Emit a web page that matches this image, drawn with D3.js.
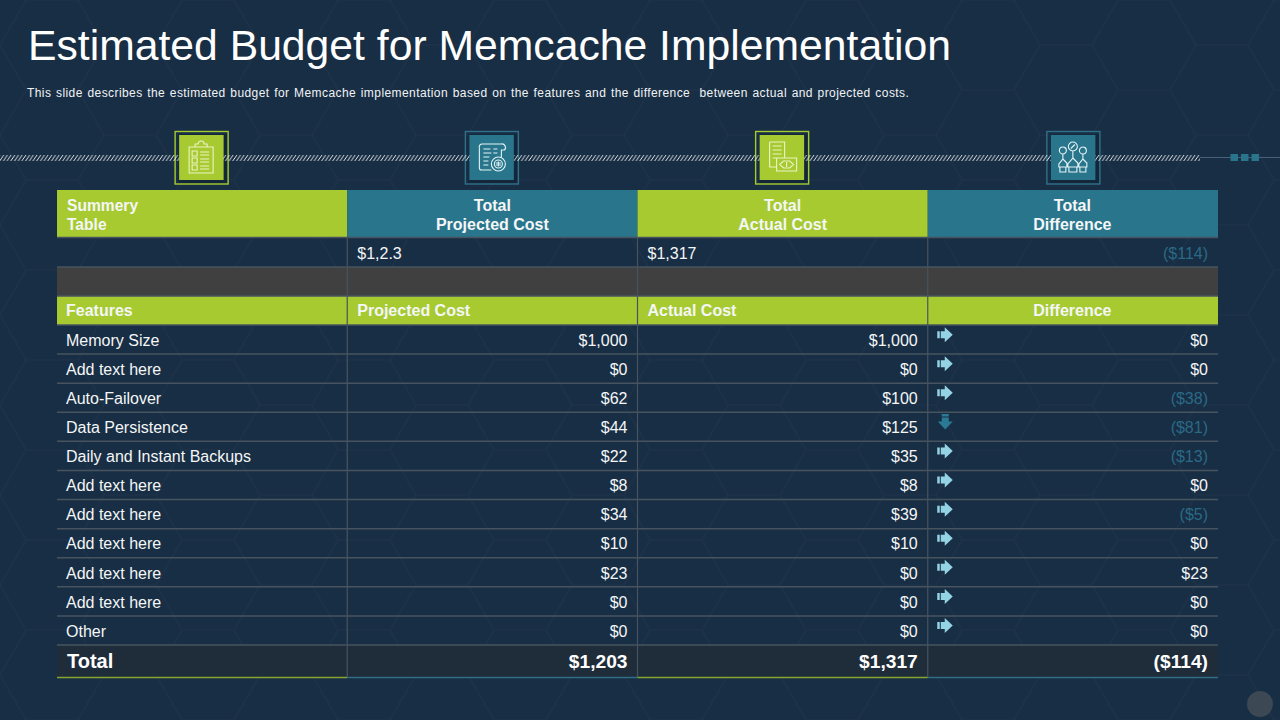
<!DOCTYPE html>
<html>
<head>
<meta charset="utf-8">
<script src="https://cdn.jsdelivr.net/npm/d3@7/dist/d3.min.js"></script>
<style>
  html, body { margin: 0; padding: 0; background: #182f46; }
  svg { display: block; font-family: "Liberation Sans", Arial, sans-serif; }
  text { white-space: pre; }
</style>
</head>
<body>
<svg id="chart" width="1280" height="720"></svg>
<script>
// chart values
const titleText = 'Estimated Budget for Memcache Implementation'
const subtitleText = 'This slide describes the estimated budget for Memcache implementation based on the features and the difference  between actual and projected costs.'

const columns = ['name', 'projected', 'actual', 'difference']
const summaryHeaders = [['Summery', 'Table'], ['Total', 'Projected Cost'], ['Total', 'Actual Cost'], ['Total', 'Difference']]
const summaryValues = ['', '$1,2.3', '$1,317', '($114)']
const featureHeaders = ['Features', 'Projected Cost', 'Actual Cost', 'Difference']

const features = ['Memory Size', 'Add text here', 'Auto-Failover', 'Data Persistence', 'Daily and Instant Backups', 'Add text here', 'Add text here', 'Add text here', 'Add text here', 'Add text here', 'Other']
const projected = [1000, 0, 62, 44, 22, 8, 34, 10, 23, 0, 0]
const actual = [1000, 0, 100, 125, 35, 8, 39, 10, 0, 0, 0]
const difference = [0, 0, -38, -81, -13, 0, -5, 0, 23, 0, 0]
const arrows = ['right', 'right', 'right', 'down', 'right', 'right', 'right', 'right', 'right', 'right', 'right']
const totals = ['Total', '$1,203', '$1,317', '($114)']

const GREEN = '#a6ca30'
const TEAL = '#29758c'
const LINE = '#47545f'
const MUTED = '#2a6a86'

const svg = d3.select('#chart')
const defs = svg.append('defs')

/**
 * @Background
 */
const hex = defs.append('pattern')
    .attr('id', 'hex')
    .attr('patternUnits', 'userSpaceOnUse')
    .attr('width', 156)
    .attr('height', 90)
hex.append('path')
    .attr('d', 'M0,45 L26,0 M0,45 L26,90 M26,0 L78,0 M26,90 L78,90 M78,0 L104,45 M78,90 L104,45 M104,45 L156,45')
    .attr('fill', 'none')
    .attr('stroke', '#ffffff')
    .attr('stroke-opacity', 0.018)
    .attr('stroke-width', 1.5)

svg.append('rect').attr('width', 1280).attr('height', 720).attr('fill', '#182e44')
svg.append('rect').attr('width', 1280).attr('height', 720).attr('fill', 'url(#hex)')

/**
 * @Title
 */
svg.append('text')
    .attr('x', 28)
    .attr('y', 60)
    .attr('fill', '#fff')
    .attr('font-size', 42.7)
    .text(titleText)

svg.append('text')
    .attr('x', 27)
    .attr('y', 97)
    .attr('fill', '#f0f3f5')
    .attr('font-size', 12)
    .attr('letter-spacing', 0.42)
    .attr('word-spacing', 0.9)
    .text(subtitleText)

/**
 * @Scales
 */
const scaleX = d3.scaleLinear().domain([0, 4]).range([57, 1218])
const colW = scaleX(1) - scaleX(0)
const scaleRow = d3.scaleBand().domain(d3.range(features.length)).range([325, 645])

/**
 * @Icons (frame goes under the ribbon, tile over it)
 */
const iconCols = [0, 1, 2, 3]
const iconX = d => scaleX(d) + colW / 2 - 0.5 + (d === 3 ? 1 : 0)

const frames = svg.append('g').selectAll('g')
    .data(iconCols)
    .enter()
    .append('g')
    .attr('transform', d => `translate(${iconX(d)},157.5)`)

frames.append('rect')
    .attr('x', -23).attr('y', -23)
    .attr('width', 48.5).attr('height', 48.5)
    .attr('fill', '#13263a')
frames.append('rect')
    .attr('x', -26.5).attr('y', -26)
    .attr('width', 53).attr('height', 52.5)
    .attr('fill', 'none')
    .attr('stroke', d => d % 2 ? '#2f7189' : GREEN)
    .attr('stroke-width', 1.4)

/**
 * @Ribbon
 */
const stripes = defs.append('pattern')
    .attr('id', 'stripes')
    .attr('patternUnits', 'userSpaceOnUse')
    .attr('width', 3.7)
    .attr('height', 6)
    .attr('y', 155)
stripes.append('path')
    .attr('d', 'M-4.4,6.5 L0.4,-0.5 M-0.7,6.5 L4.1,-0.5 M3,6.5 L7.8,-0.5')
    .attr('stroke', '#f6f8f9')
    .attr('stroke-width', 0.9)

svg.append('rect')
    .attr('x', 0).attr('y', 155)
    .attr('width', 1200).attr('height', 6)
    .attr('fill', 'url(#stripes)')

svg.append('line')
    .attr('x1', 1200).attr('x2', 1280)
    .attr('y1', 157.5).attr('y2', 157.5)
    .attr('stroke', '#47617a')

svg.append('g').selectAll('rect')
    .data([0, 1, 2])
    .enter()
    .append('rect')
    .attr('x', d => 1230.5 + d * 10.5)
    .attr('y', 154)
    .attr('width', 7.5)
    .attr('height', 7)
    .attr('fill', TEAL)

const iconGroups = svg.append('g').selectAll('g')
    .data(iconCols)
    .enter()
    .append('g')
    .attr('transform', d => `translate(${iconX(d)},157.5)`)

iconGroups.append('rect')
    .attr('x', -22.5).attr('y', -22.5)
    .attr('width', 44.5).attr('height', 45)
    .attr('fill', d => d % 2 ? TEAL : GREEN)

const iconPaths = [
    // clipboard
    'M-12,-10 H12 V16 H-12 Z M-6,-10 V-13 H-3 A3,3 0 0 1 3,-13 H6 V-10 M-9,-6 H-4 V-1 H-9 Z M-9,1 H-4 V6 H-9 Z M-9,8 H-4 V13 H-9 Z M-1,-5 H8 M-1,-2 H8 M-1,2 H8 M-1,5 H8 M-1,9 H8 M-1,12 H8',
    // document with coin
    'M-12,-9 V11 A2,2 0 0 0 -10,13 H0 M-12,-9 A3,3 0 0 1 -9,-13 H10 A3.5,3.5 0 0 1 13,-7 H10 V0 M-8,-8 H-1 M2,-8 H6 M-8,-4 H0 M-8,0 H-2 M2,-4 H6 M-8,4 H-3 M-8,8 H-3 M7,0 A7,7 0 1 0 7.01,14 A7,7 0 1 0 7,0 Z M7,3 A4,4 0 1 0 7.01,11 A4,4 0 1 0 7,3 Z M4.5,6 H9.5 M4.5,8 H9.5 M7,4.5 V9.5',
    // document with banknote
    'M-12,-15 H3 V1 M-12,-15 V10 H-5 M-9,-11 H0 M-9,-7 H0 M-9,-3 H0 M-9,1 H-5 M-5,1 H15 V14 H-5 Z M-2,7.5 L2,4 H8 L12,7.5 L8,11 H2 Z M5,5 V10',
    // three raised hands
    'M-10,-10 A3.5,3.5 0 1 0 -9.99,-3 A3.5,3.5 0 1 0 -10,-10 Z M0,-15 A4.5,4.5 0 1 0 0.01,-6 A4.5,4.5 0 1 0 0,-15 Z M10,-10 A3.5,3.5 0 1 0 10.01,-3 A3.5,3.5 0 1 0 10,-10 Z M-2,-8.5 L2,-12.5 M-10,-3 V2 L-14,7 V10 H-6 V6 L-10,2 M0,-6 V1 L-5,7 V10 H5 V6 L0,1 M10,-3 V2 L6,7 V10 H14 V6 L10,2 M-13,10 V15 H-7 V10 M-4,10 V15 H4 V10 M7,10 V15 H13 V10'
]
iconGroups.append('path')
    .attr('d', d => iconPaths[d])
    .attr('fill', 'none')
    .attr('stroke', d => d % 2 ? '#e4f4f6' : '#eef4c8')
    .attr('stroke-width', 1.1)
    .attr('transform', d => 'translate(-0.5,-0.5)')

/**
 * @Table bands
 */
const bandRow = (y, h, fill) => svg.append('rect')
    .attr('x', scaleX(0)).attr('y', y)
    .attr('width', scaleX(4) - scaleX(0)).attr('height', h)
    .attr('fill', fill)

svg.append('g').selectAll('rect')
    .data(iconCols)
    .enter()
    .append('rect')
    .attr('x', d => scaleX(d))
    .attr('y', 190)
    .attr('width', colW)
    .attr('height', 47)
    .attr('fill', d => d % 2 ? TEAL : GREEN)

bandRow(267, 29, '#404040')
bandRow(296, 29, GREEN)
bandRow(645, 32, '#1f2c3a')

// lines between rows
const hLines = [237.5, 267, 296, 325].concat(d3.range(1, features.length + 1).map(i => scaleRow(i - 1) + scaleRow.bandwidth()))
svg.append('g').selectAll('line')
    .data(hLines)
    .enter()
    .append('line')
    .attr('x1', scaleX(0)).attr('x2', scaleX(4))
    .attr('y1', d => d).attr('y2', d => d)
    .attr('stroke', LINE)
    .attr('stroke-width', 1.5)

svg.append('g').selectAll('line')
    .data([1, 2, 3])
    .enter()
    .append('line')
    .attr('x1', d => scaleX(d)).attr('x2', d => scaleX(d))
    .attr('y1', 238).attr('y2', 677)
    .attr('stroke', LINE)
    .attr('stroke-width', 1.2)

svg.append('g').selectAll('line')
    .data(iconCols)
    .enter()
    .append('line')
    .attr('x1', d => scaleX(d)).attr('x2', d => scaleX(d + 1))
    .attr('y1', 677.5).attr('y2', 677.5)
    .attr('stroke', d => d % 2 ? '#2f6e85' : '#86a530')
    .attr('stroke-width', 1.5)

/**
 * @Table text
 */
const cellText = (sel) => sel.attr('dominant-baseline', 'central').attr('font-size', 16).attr('fill', '#f4f6f7')
const pad = 10

// summary header
const summaryHead = svg.append('g').selectAll('g')
    .data(summaryHeaders)
    .enter()
    .append('g')
summaryHead.each(function(lines, col) {
    d3.select(this).selectAll('text')
        .data(lines)
        .enter()
        .append('text')
        .attr('x', col === 0 ? scaleX(0) + pad : scaleX(col) + colW / 2 - (col === 3 ? 0.5 : 0))
        .attr('y', (d, i) => 205 + i * 19)
        .attr('text-anchor', col === 0 ? 'start' : 'middle')
        .attr('font-weight', 700)
        .call(cellText)
        .attr('font-size', col === 0 ? 15.6 : 16)
        .text(d => d)
})

// summary values
svg.append('g').selectAll('text')
    .data(summaryValues)
    .enter()
    .append('text')
    .attr('x', (d, i) => i === 3 ? scaleX(4) - pad : scaleX(i) + pad)
    .attr('y', 253)
    .attr('text-anchor', (d, i) => i === 3 ? 'end' : 'start')
    .call(cellText)
    .attr('fill', (d, i) => i === 3 ? MUTED : '#f4f6f7')
    .text(d => d)

// feature header
svg.append('g').selectAll('text')
    .data(featureHeaders)
    .enter()
    .append('text')
    .attr('x', (d, i) => i === 3 ? scaleX(3) + colW / 2 - 0.5 : scaleX(i) + pad - (i === 0 ? 1 : 0))
    .attr('y', 310)
    .attr('text-anchor', (d, i) => i === 3 ? 'middle' : 'start')
    .attr('font-weight', 700)
    .call(cellText)
    .text(d => d)

// feature rows
const money = v => v < 0 ? `($${Math.abs(v)})` : '$' + d3.format(',')(v)
const rows = features.map((f, i) => ({ name: f, projected: projected[i], actual: actual[i], difference: difference[i], arrow: arrows[i], i }))
const rowY = d => scaleRow(d.i) + scaleRow.bandwidth() / 2 + 0.8

const Row = svg.append('g').selectAll('g')
    .data(rows)
    .enter()
    .append('g')

Row.append('text')
    .attr('x', scaleX(0) + pad - 1)
    .attr('y', rowY)
    .call(cellText)
    .text(d => d.name)

columns.slice(1).forEach((key, c) => {
    Row.append('text')
        .attr('x', scaleX(c + 2) - pad)
        .attr('y', rowY)
        .attr('text-anchor', 'end')
        .call(cellText)
        .attr('fill', d => d[key] < 0 ? MUTED : '#f4f6f7')
        .text(d => money(d[key]))
})

// arrows in difference column
Row.append('path')
    .attr('d', 'M-8,-3.5 H-5.5 V3.5 H-8 Z M-4.5,-3.5 H-0.5 V-7.5 L7.5,0 L-0.5,7.5 V3.5 H-4.5 Z')
    .attr('transform', d => `translate(${scaleX(3) + 17.5},${rowY(d) - 5.7})` + (d.arrow === 'down' ? ' rotate(90)' : ''))
    .attr('fill', d => d.arrow === 'down' ? '#2a7a96' : '#93d3e4')

// total row
svg.append('g').selectAll('text')
    .data(totals)
    .enter()
    .append('text')
    .attr('x', (d, i) => i === 0 ? scaleX(0) + pad : scaleX(i + 1) - pad)
    .attr('y', 661)
    .attr('text-anchor', (d, i) => i === 0 ? 'start' : 'end')
    .attr('font-weight', 700)
    .call(cellText)
    .attr('font-size', (d, i) => i === 0 ? 20 : 19.2)
    .attr('fill', '#fff')
    .text(d => d)

// little round button in the corner
svg.append('circle')
    .attr('cx', 1260).attr('cy', 704)
    .attr('r', 13)
    .attr('fill', '#3c4853')
</script>
</body>
</html>
